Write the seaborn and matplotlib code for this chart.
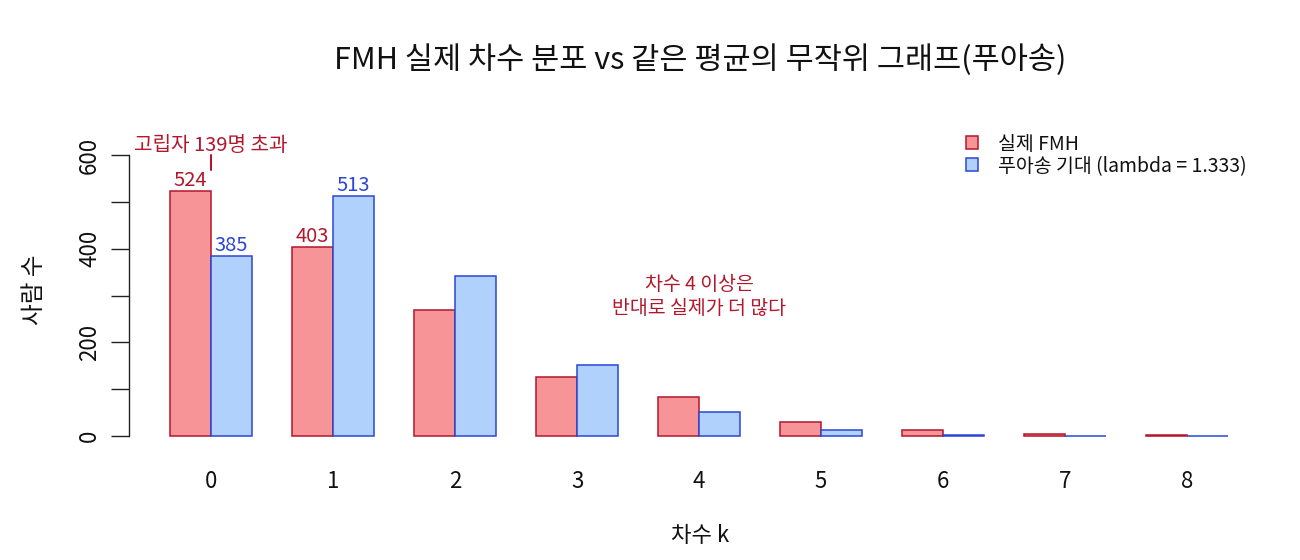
import matplotlib
matplotlib.use("Agg")
import matplotlib.pyplot as plt
import matplotlib.patches as mpatches
import seaborn as sns
import pandas as pd

degrees = [0, 1, 2, 3, 4, 5, 6, 7, 8]
actual = [524, 403, 269, 127, 84, 29, 12, 4, 2]
poisson = [385, 513, 342, 152, 51, 13, 3, 0.6, 0.1]
series_names = ["실제 FMH", "푸아송 기대 (lambda = 1.333)"]
title = "FMH 실제 차수 분포 vs 같은 평균의 무작위 그래프(푸아송)"
xlabel = "차수 k"
ylabel = "사람 수"
note_isolates = "고립자 139명 초과"
note_tail = "차수 4 이상은\n반대로 실제가 더 많다"

sns.set_theme(style="white")
plt.rcParams["font.family"] = ["Noto Sans CJK KR", "DejaVu Sans"]
plt.rcParams["font.weight"] = "light"

fill_cols = ["#F79497", "#B0D1FC"]
edge_cols = ["#B2182B", "#2A46D6"]
text_cols = ["#B2182B", "#2A46D6"]
txt_col = "#111111"

df = pd.DataFrame({
    "k": degrees * 2,
    "count": actual + poisson,
    "series": [series_names[0]] * len(degrees) + [series_names[1]] * len(degrees),
})

W, H = 1300, 560
fig = plt.figure(figsize=(13, 5.6), dpi=100)
# axes: left 129px, right 1271px, top 110px, bottom 470px
ax = fig.add_axes([129 / W, 1 - 470 / H, (1271 - 129) / W, (470 - 110) / H])

sns.barplot(data=df, x="k", y="count", hue="series", palette=fill_cols,
            width=0.67, saturation=1, ax=ax, legend=False, linewidth=1.1)
for cont, ec in zip(ax.containers, edge_cols):
    for p in cont:
        p.set_edgecolor(ec)
        p.set_linewidth(1.1)

ppu = 0.468  # pixels per unit
ax.set_ylim(-(470 - 436) / ppu, (436 - 110) / ppu)
ax.set_xlim((129 - 211) / 122, (1271 - 211) / 122)

for s in ["top", "right", "bottom"]:
    ax.spines[s].set_visible(False)
ax.spines["left"].set_bounds(0, 600)
ax.spines["left"].set_color("#222222")
ax.spines["left"].set_linewidth(1.0)

ax.set_yticks([0, 100, 200, 300, 400, 500, 600])
ax.set_yticklabels(["0", "", "200", "", "400", "", "600"], rotation=90, va="center")
ax.tick_params(axis="y", length=13, width=1.0, color="#222222", labelsize=16, pad=7,
               left=True, labelcolor=txt_col)
ax.set_xticks(range(len(degrees)))
ax.set_xticklabels([str(d) for d in degrees])
ax.tick_params(axis="x", length=0, labelsize=16, pad=0, labelcolor=txt_col)

ax.set_xlabel(xlabel, fontsize=16, labelpad=22, color=txt_col)
ax.set_ylabel(ylabel, fontsize=17, labelpad=23, color=txt_col)
fig.text(700 / W, 1 - 60 / H, title, fontsize=22, ha="center", va="center", color=txt_col)

# value labels for first two categories
for i, (cont, col, vals) in enumerate(zip(ax.containers, text_cols, [actual, poisson])):
    for j in range(2):
        p = cont[j]
        ax.annotate(str(round(vals[j])), (p.get_x() + p.get_width() / 2, p.get_height()),
                    xytext=(0, 0), textcoords="offset points", ha="center", va="bottom",
                    fontsize=14.5, color=col)

# isolates annotation
ax.plot([0, 0], [568, 600], color="#B2182B", lw=1.5)
ax.text(0, 620, note_isolates, ha="center", va="center", fontsize=14.5, color="#B2182B")
ax.text(4.0, 298, note_tail, ha="center", va="center", fontsize=14, color="#B2182B",
        linespacing=1.15)

handles = [mpatches.Patch(facecolor=fill_cols[i], edgecolor=edge_cols[i], linewidth=1.1,
                          label=series_names[i]) for i in range(2)]
leg = fig.legend(handles=handles, loc="upper left", bbox_to_anchor=(958 / W, 1 - 126 / H),
                 frameon=False, fontsize=14, handlelength=0.65, handleheight=0.65,
                 handletextpad=1.0, labelspacing=0.05, borderaxespad=0)
for t in leg.get_texts():
    t.set_color(txt_col)

fig.savefig("out.png", dpi=100)
